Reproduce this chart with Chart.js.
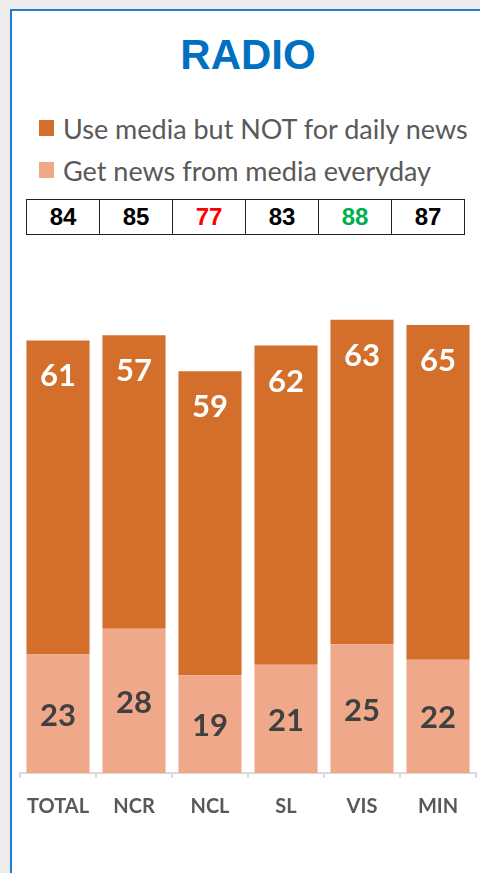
<!DOCTYPE html>
<html>
<head>
<meta charset="utf-8">
<script src="https://cdn.jsdelivr.net/npm/chart.js@4/dist/chart.umd.min.js"></script>
<style>
  html, body { margin:0; padding:0; width:480px; height:873px; overflow:hidden; background:#ececec; }
  #frame { position:absolute; left:10px; top:9px; width:480px; height:880px; background:#fff;
           border-left:2px solid #1e7fd2; border-top:2px solid #1e7fd2; }
  #title { position:absolute; left:0; width:496px; top:30px; text-align:center;
           font:bold 42px "Liberation Sans", Arial, sans-serif; color:#0070C0; line-height:50px; }
  #legend { position:absolute; left:39px; top:107px; font-family:Lato, sans-serif; font-size:27px; color:#595959; }
  .li { height:42px; display:flex; align-items:center; white-space:nowrap; }
  .sw { width:15px; height:16px; margin-right:9px; }
  #tbl { position:absolute; left:26px; top:199px; border-collapse:collapse; }
  #tbl td { width:72px; height:34px; border:1.5px solid #222; text-align:center; padding:0;
            font:bold 24px "Liberation Sans", Arial, sans-serif; }
  #cv { position:absolute; left:0; top:0; }
</style>
</head>
<body>
<div id="frame"></div>
<div id="title">RADIO</div>
<div id="legend"></div>
<table id="tbl"><tr id="trow"></tr></table>
<canvas id="cv" width="480" height="873"></canvas>
<script>
const categories = ["TOTAL", "NCR", "NCL", "SL", "VIS", "MIN"];
const seriesNames = ["Get news from media everyday", "Use media but NOT for daily news"];
const dailyNews = [23, 28, 19, 21, 25, 22];
const notDaily = [61, 57, 59, 62, 63, 65];
const totals = [84, 85, 77, 83, 88, 87];
const totalColors = ["#000000", "#000000", "#FF0000", "#000000", "#00B050", "#000000"];
const seriesColors = ["#F0A88A", "#D36F2B"];

// legend (dark series listed first)
const legend = document.getElementById('legend');
[1, 0].forEach(i => {
  const d = document.createElement('div'); d.className = 'li';
  const s = document.createElement('span'); s.className = 'sw'; s.style.background = seriesColors[i];
  const t = document.createElement('span'); t.textContent = seriesNames[i];
  d.appendChild(s); d.appendChild(t); legend.appendChild(d);
});
// totals row
const trow = document.getElementById('trow');
totals.forEach((v, i) => {
  const td = document.createElement('td'); td.textContent = v; td.style.color = totalColors[i]; trow.appendChild(td);
});

const labelPlugin = {
  id: 'barLabels',
  afterDatasetsDraw(chart) {
    const ctx = chart.ctx;
    ctx.save();
    ctx.font = 'bold 31px Lato, sans-serif';
    ctx.textAlign = 'center';
    ctx.textBaseline = 'middle';
    chart.data.datasets.forEach((ds, di) => {
      const meta = chart.getDatasetMeta(di);
      meta.data.forEach((el, i) => {
        const p = el.getProps(['x', 'y', 'base'], true);
        let y;
        if (di === 1) { ctx.fillStyle = '#ffffff'; y = p.y + 36; }
        else { ctx.fillStyle = '#404040'; y = (p.y + p.base) / 2 + 2; }
        ctx.fillText(String(ds.data[i]), p.x, y);
      });
    });
    ctx.restore();
  }
};

new Chart(document.getElementById('cv'), {
  type: 'bar',
  data: {
    labels: categories,
    datasets: [
      { label: seriesNames[0], data: dailyNews, backgroundColor: seriesColors[0], borderWidth: 0 },
      { label: seriesNames[1], data: notDaily, backgroundColor: seriesColors[1], borderWidth: 0 }
    ]
  },
  options: {
    responsive: false,
    animation: false,
    devicePixelRatio: 1,
    layout: { padding: { left: 20, right: 4, top: 258, bottom: 40 } },
    datasets: { bar: { categoryPercentage: 1, barPercentage: 0.83 } },
    plugins: { legend: { display: false }, tooltip: { enabled: false }, title: { display: false } },
    scales: {
      x: {
        stacked: true,
        afterFit: s => { s.height = 60; },
        grid: { display: true, drawOnChartArea: false, drawTicks: true, tickLength: 5, color: '#d9d9d9', lineWidth: 2, offset: true },
        border: { display: true, color: '#d9d9d9', width: 2 },
        ticks: { font: { family: 'Lato', weight: 'bold', size: 20 }, color: '#595959', padding: 17 }
      },
      y: { stacked: true, display: false, min: 0, max: 100 }
    }
  },
  plugins: [labelPlugin]
});
</script>
</body>
</html>
